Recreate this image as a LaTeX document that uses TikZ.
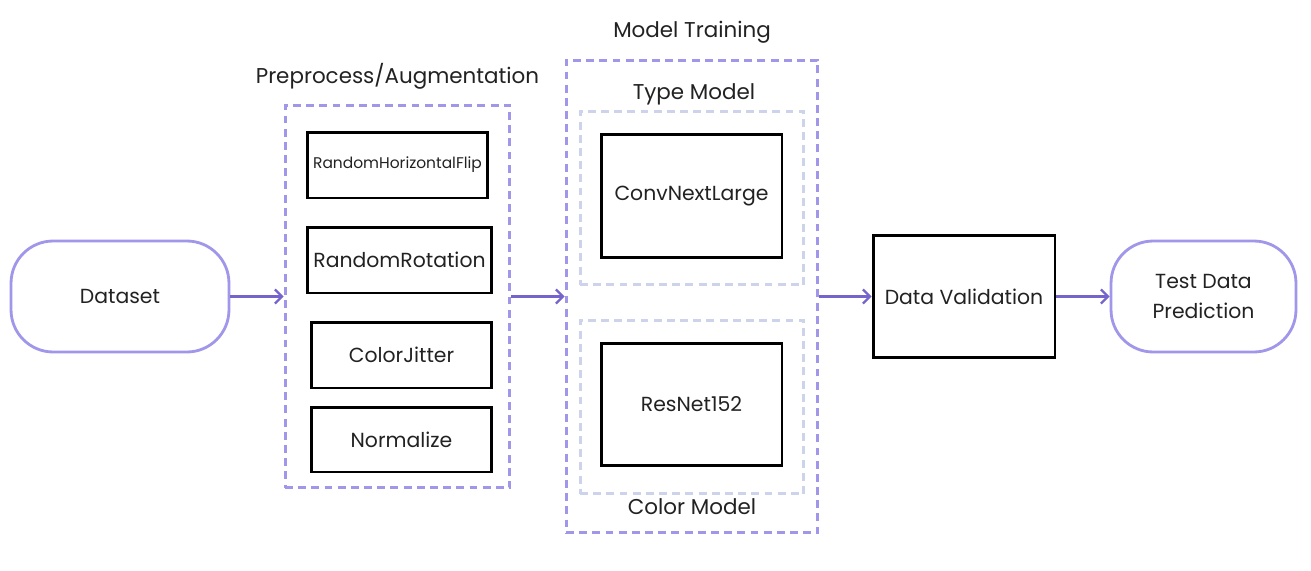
\documentclass[tikz,border=0pt]{standalone}
\usepackage{fontspec}
\setmainfont{Poppins}
\usetikzlibrary{arrows.meta}
\definecolor{lavender}{HTML}{A096EA}
\definecolor{paleblue}{HTML}{CDD3EA}
\definecolor{arrowpurple}{HTML}{7564CC}
\definecolor{inkgray}{HTML}{222222}
\tikzset{
  endbox/.style={draw=lavender, line width=1.6pt, rounded corners=24pt, text=inkgray, align=center, font=\fontsize{11.6}{17.5}\selectfont},
  stagebox/.style={draw=black, line width=1.7pt, text=inkgray, align=center, font=\fontsize{11.6}{15}\selectfont},
  groupbox/.style={draw=lavender, line width=1.7pt, dash pattern=on 4.5pt off 3pt},
  subbox/.style={draw=paleblue, line width=1.7pt, dash pattern=on 4.5pt off 3pt},
  grouplabel/.style={text=inkgray, font=\fontsize{12.2}{15}\selectfont},
  flow/.style={draw=arrowpurple, line width=1.3pt, -{Straight Barb[length=4pt,width=8pt]}}
}
\begin{document}
\begin{tikzpicture}[x=0.02cm, y=-0.02cm]
  \useasboundingbox (0,0) rectangle (1311,571);

  % start and end
  \node[endbox, minimum width=4.36cm, minimum height=2.22cm] (dataset) at (120,296.5) {Dataset};
  \node[endbox, minimum width=3.7cm, minimum height=2.22cm] (test) at (1203.5,296.5) {Test Data\\Prediction};

  % preprocessing
  \node[groupbox, minimum width=4.5cm, minimum height=7.66cm] (prep) at (397.5,296.5) {};
  \node[grouplabel] (preplabel) at (397.5,76) {Preprocess/Augmentation};
  \node[stagebox, minimum width=3.62cm, minimum height=1.32cm, font=\fontsize{8.8}{10}\selectfont] (flip) at (397.5,165) {RandomHorizontalFlip};
  \node[stagebox, minimum width=3.62cm, minimum height=1.32cm] (rot) at (399.5,260) {RandomRotation};
  \node[stagebox, minimum width=3.62cm, minimum height=1.32cm] (jitter) at (401.5,355) {ColorJitter};
  \node[stagebox, minimum width=3.62cm, minimum height=1.3cm] (norm) at (401.5,439.5) {Normalize};

  % model training
  \node[groupbox, minimum width=5.04cm, minimum height=9.46cm] (train) at (692,296.5) {};
  \node[grouplabel] (trainlabel) at (692,32) {Model Training};
  \node[subbox, minimum width=4.48cm, minimum height=3.48cm] (typebox) at (692,198) {};
  \node[grouplabel] (typelabel) at (694,94) {Type Model};
  \node[stagebox, minimum width=3.62cm, minimum height=2.48cm] (convnext) at (691.5,196) {ConvNextLarge};
  \node[subbox, minimum width=4.48cm, minimum height=3.48cm] (colorbox) at (692,407) {};
  \node[grouplabel] (colorlabel) at (692,507) {Color Model};
  \node[stagebox, minimum width=3.62cm, minimum height=2.46cm] (resnet) at (691.5,404.5) {ResNet152};

  % validation
  \node[stagebox, minimum width=3.64cm, minimum height=2.46cm] (valid) at (964,296.5) {Data Validation};

  \draw[flow] (dataset.east) -- (prep.west);
  \draw[flow] (prep.east) -- (train.west);
  \draw[flow] (train.east) -- (valid.west);
  \draw[flow] (valid.east) -- (test.west);
\end{tikzpicture}
\end{document}
